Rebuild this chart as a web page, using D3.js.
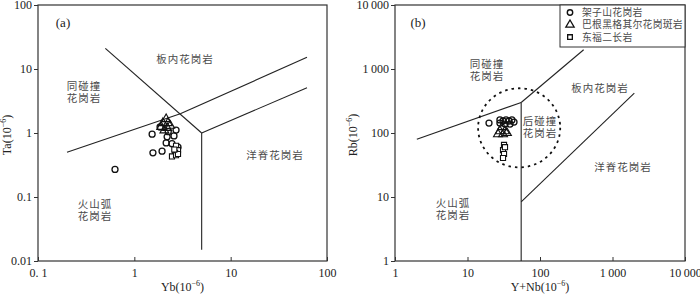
<!DOCTYPE html>
<html>
<head>
<meta charset="utf-8">
<title></title>
<style>
  body { margin: 0; background: #fff; }
  text { font-family: "Liberation Serif", "DejaVu Serif", serif; }
  .cn { font-family: "Noto Sans CJK SC", sans-serif; fill: #4a4a4a; }
</style>
</head>
<body>
<svg id="chart" width="700" height="296"></svg>
<script src="https://d3js.org/d3.v7.min.js"></script>
<script>
// ---- data ----
// panel (a): [Yb, Ta]
let aCircles = [[1.53,0.96],[1.56,0.49],[1.94,0.52],[2.19,0.87],[2.14,0.70],[2.71,1.11],
                [2.58,0.90],[2.46,0.68],[2.84,0.60],[0.63,0.27],[1.85,1.24],[2.25,1.05]]
let aTriangles = [[2.14,1.65],[1.98,1.43],[2.23,1.43],[1.90,1.25],[2.19,1.20],[2.36,1.30],[2.05,1.10]]
let aSquares = [[2.71,0.63],[2.84,0.54],[2.65,0.49],[2.46,0.43],[2.71,0.45],[2.84,0.47],[2.60,0.55]]
// panel (b): [Y+Nb, Rb]
let bCircles = [[19.8,143],[28,160],[30.9,154],[34,160],[37.4,154],[41,160],[43.8,148],
                [32.9,138],[38.6,138],[28,143]]
let bTriangles = [[29.9,124],[28,107],[32.9,107],[26.3,96],[30.9,96],[35,100]]
let bSquares = [[31.9,65],[30.9,54],[31.9,47],[30.9,40.7],[32.9,60]]

// discrimination lines (Pearce et al.)
let aLines = [
  [[0.2,0.5],[3,2]],
  [[3,2],[62,15.2]],
  [[0.5,21],[5,1]],
  [[5,1],[62,5.1]],
  [[5,1],[5,0.015]]
]
let bLines = [
  [[2,80],[55,300]],
  [[55,300],[400,2000]],
  [[55,300],[55,1]],
  [[55,8.4],[2000,420]]
]
// post-collision field (dashed ellipse), bounds in data units
let bEllipseX = [14,190]
let bEllipseY = [29,500]

// ticks
let aXTicks = [0.1,1,10,100], aXLabels = ["0. 1","1","10","100"]
let aYTicks = [0.01,0.1,1,10,100], aYLabels = ["0.01","0.1","1","10","100"]
let bXTicks = [1,10,100,1000,10000], bXLabels = ["1","10","100","1\u2009000","10\u2009000"]
let bYTicks = [1,10,100,1000,10000], bYLabels = ["1","10","100","1\u2009000","10\u2009000"]

// field names
let aFields = [
  {t:["板内花岗岩"], at:[3.36,14.3]},
  {t:["同碰撞","花岗岩"], at:[0.30,5.4]},
  {t:["洋脊花岗岩"], at:[28.9,0.45]},
  {t:["火山弧","花岗岩"], at:[0.39,0.078]}
]
let bFields = [
  {t:["同碰撞","花岗岩"], at:[18.6,1200]},
  {t:["板内花岗岩"], at:[672,505]},
  {t:["后碰撞","花岗岩"], at:[100,150]},
  {t:["洋脊花岗岩"], at:[1396,29.4]},
  {t:["火山弧","花岗岩"], at:[6.3,8.05]}
]
let legendNames = ["架子山花岗岩","巴根黑格其尔花岗斑岩","东福二长岩"]

let svg = d3.select("#chart")

function superTitle(g, x, y, pre, rotate) {
  let t = g.append("text")
    .attr("x", x).attr("y", y)
    .attr("text-anchor", "middle")
    .attr("font-size", 12)
    .attr("fill", "#222")
  if (rotate) t.attr("transform", `rotate(-90,${x},${y})`)
  t.append("tspan").text(pre + "(10")
  t.append("tspan").attr("font-size", 8).attr("dy", -5).text("−6")
  t.append("tspan").attr("dy", 5).text(")")
}

function panel(opt) {
  let g = svg.append("g")
  let x = d3.scaleLog().domain(opt.xd).range(opt.xr)
  let y = d3.scaleLog().domain(opt.yd).range(opt.yr)

  // frame
  g.append("rect")
    .attr("x", opt.xr[0]).attr("y", opt.yr[1])
    .attr("width", opt.xr[1]-opt.xr[0]).attr("height", opt.yr[0]-opt.yr[1])
    .attr("fill", "none").attr("stroke", "#333").attr("stroke-width", 1.2)

  let xa = g.append("g").attr("transform", `translate(0,${opt.yr[0]})`)
    .call(d3.axisBottom(x).tickValues(opt.xt).tickSize(-4).tickPadding(7)
      .tickFormat((d,i) => opt.xl[i]))
  let ya = g.append("g").attr("transform", `translate(${opt.xr[0]},0)`)
    .call(d3.axisLeft(y).tickValues(opt.yt).tickSize(4).tickPadding(2)
      .tickFormat((d,i) => opt.yl[i]))
  for (let a of [xa, ya]) {
    a.select(".domain").remove()
    a.selectAll("line").attr("stroke", "#333")
    a.selectAll("text").attr("font-size", 12).attr("fill", "#222")
      .attr("font-family", "Liberation Serif")
  }

  // boundary lines
  g.selectAll("line.b").data(opt.lines).enter().append("line")
    .attr("x1", d => x(d[0][0])).attr("y1", d => y(d[0][1]))
    .attr("x2", d => x(d[1][0])).attr("y2", d => y(d[1][1]))
    .attr("stroke", "#222").attr("stroke-width", 1.1)

  // field labels
  for (let f of opt.fields) {
    f.t.forEach((s, i) => {
      g.append("text").attr("class", "cn")
        .attr("x", x(f.at[0])).attr("y", y(f.at[1]) + i*12)
        .attr("text-anchor", "middle").attr("font-size", 10.5)
        .attr("letter-spacing", 1)
        .attr("dy", "0.35em")
        .text(s)
    })
  }

  g.append("text").attr("x", opt.tag[0]).attr("y", opt.tag[1])
    .attr("font-size", 13).attr("fill", "#222").attr("text-anchor", "middle")
    .text(opt.tagText)

  superTitle(g, (opt.xr[0]+opt.xr[1])/2, 291, opt.xTitle, false)
  superTitle(g, opt.yTitleX, (opt.yr[0]+opt.yr[1])/2 + 2, opt.yTitle, true)

  return {g, x, y}
}

function drawPoints(p, circles, tris, squares) {
  p.g.selectAll("circle.c").data(circles).enter().append("circle")
    .attr("cx", d => p.x(d[0])).attr("cy", d => p.y(d[1])).attr("r", 3)
    .attr("fill", "none").attr("stroke", "#111").attr("stroke-width", 1.3)
  p.g.selectAll("path.t").data(tris).enter().append("path")
    .attr("d", d3.symbol(d3.symbolTriangle, 34))
    .attr("transform", d => `translate(${p.x(d[0])},${p.y(d[1])})`)
    .attr("fill", "none").attr("stroke", "#111").attr("stroke-width", 1.1)
  p.g.selectAll("path.s").data(squares).enter().append("path")
    .attr("d", d3.symbol(d3.symbolSquare, 26))
    .attr("transform", d => `translate(${p.x(d[0])},${p.y(d[1])})`)
    .attr("fill", "#fff").attr("stroke", "#111").attr("stroke-width", 1.1)
}

let pa = panel({
  xd:[0.1,100], xr:[38,327], yd:[0.01,100], yr:[261,5],
  xt:aXTicks, xl:aXLabels, yt:aYTicks, yl:aYLabels,
  lines:aLines, fields:aFields, tag:[63,27], tagText:"(a)",
  xTitle:"Yb", yTitle:"Ta", yTitleX:11
})
drawPoints(pa, aCircles, aTriangles, aSquares)

let pb = panel({
  xd:[1,10000], xr:[395,685], yd:[1,10000], yr:[261,5],
  xt:bXTicks, xl:bXLabels, yt:bYTicks, yl:bYLabels,
  lines:bLines, fields:bFields, tag:[418,27], tagText:"(b)",
  xTitle:"Y+Nb", yTitle:"Rb", yTitleX:357
})

// dashed post-collision ellipse
pb.g.append("ellipse")
  .attr("cx", (pb.x(bEllipseX[0]) + pb.x(bEllipseX[1]))/2)
  .attr("cy", (pb.y(bEllipseY[0]) + pb.y(bEllipseY[1]))/2)
  .attr("rx", (pb.x(bEllipseX[1]) - pb.x(bEllipseX[0]))/2)
  .attr("ry", (pb.y(bEllipseY[0]) - pb.y(bEllipseY[1]))/2)
  .attr("fill", "none").attr("stroke", "#111").attr("stroke-width", 1.8)
  .attr("stroke-dasharray", "2.5,4")

drawPoints(pb, bCircles, bTriangles, bSquares)

// legend (top right of panel b)
let lg = svg.append("g")
lg.append("rect").attr("x", 560).attr("y", 5).attr("width", 125).attr("height", 42)
  .attr("fill", "#fff").attr("stroke", "#333").attr("stroke-width", 1)
let sym = [d3.symbolCircle, d3.symbolTriangle, d3.symbolSquare]
legendNames.forEach((name, i) => {
  let yy = 12.5 + i*12.3
  if (i == 0) {
    lg.append("circle").attr("cx", 570).attr("cy", yy).attr("r", 2.7)
      .attr("fill", "none").attr("stroke", "#111").attr("stroke-width", 1.4)
  } else {
    lg.append("path").attr("d", d3.symbol(sym[i], i == 1 ? 30 : 22))
      .attr("transform", `translate(570,${yy})`)
      .attr("fill", "none").attr("stroke", "#111").attr("stroke-width", 1.3)
  }
  lg.append("text").attr("class", "cn").attr("x", 582).attr("y", yy)
    .attr("dy", "0.35em").attr("font-size", 9.8).attr("letter-spacing", 0.3)
    .text(name)
})
</script>
</body>
</html>
